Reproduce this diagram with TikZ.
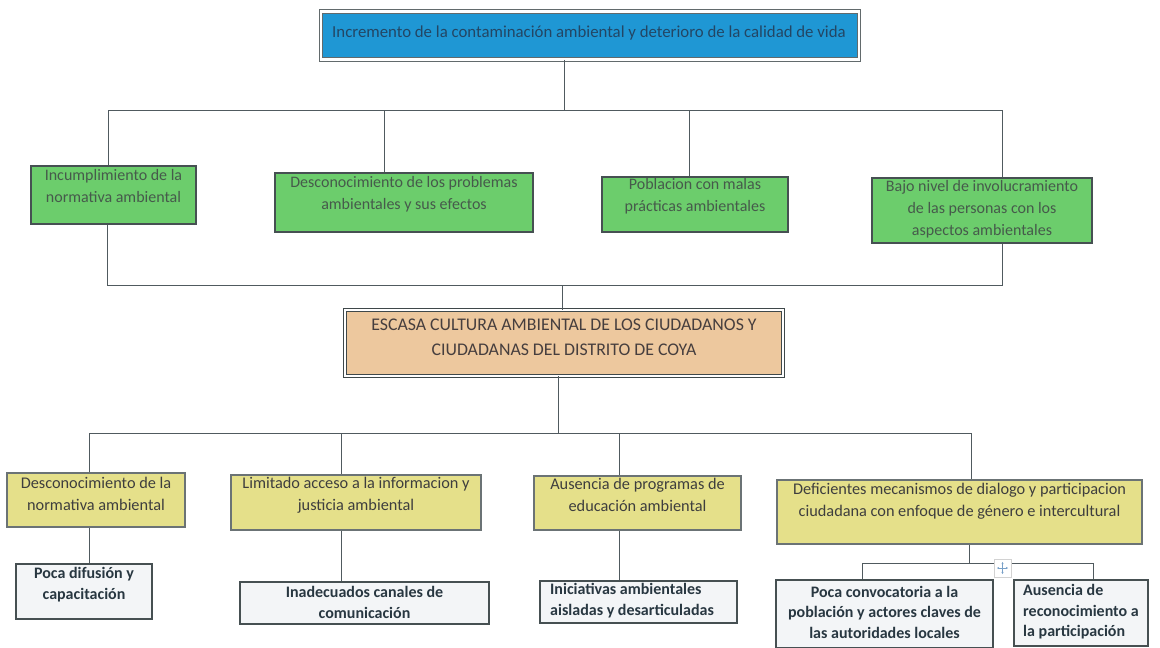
\documentclass[tikz,border=0pt]{standalone}
\usepackage{fontspec}
\setmainfont{Carlito}
\usetikzlibrary{arrows.meta}
\definecolor{bluef}{RGB}{31,151,212}
\definecolor{greenf}{RGB}{108,205,108}
\definecolor{tanf}{RGB}{237,200,158}
\definecolor{yellowf}{RGB}{229,224,138}
\definecolor{whitef}{RGB}{243,245,247}
\definecolor{bordc}{RGB}{70,80,82}
\definecolor{linec}{RGB}{80,90,95}
\definecolor{toptxt}{RGB}{35,70,100}
\definecolor{greentxt}{RGB}{70,90,75}
\definecolor{centxt}{RGB}{70,62,62}
\definecolor{yeltxt}{RGB}{62,62,62}
\definecolor{whitetxt}{RGB}{40,55,65}
\definecolor{iconc}{RGB}{120,160,200}
\begin{document}
\begin{tikzpicture}[x=1pt,y=-1pt,
  conn/.style={draw=linec, line width=0.9pt},
  gbox/.style={draw=bordc, line width=1.2pt, fill=greenf, inner sep=0pt},
  ybox/.style={draw=bordc!80, line width=1.2pt, fill=yellowf, inner sep=0pt},
  wbox/.style={draw=bordc, line width=1.5pt, fill=whitef, inner sep=0pt},
  gtxt/.style={font=\fontsize{16}{22}\selectfont, text=greentxt, align=center, inner sep=0pt},
  ytxt/.style={font=\fontsize{16.3}{22}\selectfont, text=yeltxt, align=center, inner sep=0pt},
  wtxt/.style={font=\fontsize{16}{20.5}\selectfont\bfseries, text=whitetxt, align=center, inner sep=0pt},
  wtxtl/.style={font=\fontsize{16}{20.5}\selectfont\bfseries, text=whitetxt, align=left, inner sep=0pt, anchor=west}
]
\useasboundingbox[fill=white] (0,0) rectangle (1160,648);

% ---------- top effect box ----------
\node[draw=bordc!85, line width=0.9pt, double=white, double distance=2.5pt, fill=bluef,
      minimum width=538pt, minimum height=48pt, inner sep=0pt] (top) at (590,35.5) {};
\node[font=\fontsize{16.8}{20}\selectfont, text=toptxt, inner sep=0pt] (topt) at (589,33)
  {Incremento de la contaminación ambiental y deterioro de la calidad de vida};

% ---------- green effect boxes ----------
\node[gbox, minimum width=165pt, minimum height=58pt] (g1) at (113.5,195) {};
\node[gtxt] (g1t) at (113.5,186) {Incumplimiento de la\\normativa ambiental};
\node[gbox, minimum width=258pt, minimum height=59pt] (g2) at (404,202.5) {};
\node[gtxt] (g2t) at (404,194) {Desconocimiento de los problemas\\ambientales y sus efectos};
\node[gbox, minimum width=186pt, minimum height=55pt] (g3) at (695,204.5) {};
\node[gtxt] (g3t) at (695,196) {Poblacion con malas\\prácticas ambientales};
\node[gbox, minimum width=220pt, minimum height=65pt] (g4) at (982,210.5) {};
\node[gtxt] (g4t) at (982,209) {Bajo nivel de involucramiento\\de las personas con los\\aspectos ambientales};

% ---------- central problem ----------
\node[draw=bordc!90!black, line width=1.3pt, double=white, double distance=1.8pt, fill=tanf,
      minimum width=437.6pt, minimum height=65.6pt, inner sep=0pt] (cen) at (564,343) {};
\node[font=\fontsize{17.8}{25}\selectfont, text=centxt, align=center, inner sep=0pt] (cent) at (564,337.5)
  {ESCASA CULTURA AMBIENTAL DE LOS CIUDADANOS Y\\CIUDADANAS DEL DISTRITO DE COYA};

% ---------- yellow cause boxes ----------
\node[ybox, minimum width=178pt, minimum height=54pt] (ya) at (96,500) {};
\node[ytxt] (yat) at (96,494) {Desconocimiento de la\\normativa ambiental};
\node[ybox, minimum width=250pt, minimum height=55pt] (yb) at (356,502.5) {};
\node[ytxt] (ybt) at (356,495) {Limitado acceso a la informacion y\\justicia ambiental};
\node[ybox, minimum width=207pt, minimum height=54pt] (yc) at (637.5,503) {};
\node[ytxt] (yct) at (637.5,495) {Ausencia de programas de\\educación ambiental};
\node[ybox, minimum width=365pt, minimum height=64pt] (yd) at (959.5,512) {};
\node[ytxt] (ydt) at (959.5,501) {Deficientes mecanismos de dialogo y participacion\\ciudadana con enfoque de género e intercultural};

% ---------- white sub-cause boxes ----------
\node[wbox, minimum width=136pt, minimum height=55pt] (wa) at (84,591.5) {};
\node[wtxt] (wat) at (84,584.5) {Poca difusión y\\capacitación};
\node[wbox, minimum width=249pt, minimum height=42pt] (wb) at (364.5,603) {};
\node[wtxt] (wbt) at (364.5,602.5) {Inadecuados canales de\\comunicación};
\node[wbox, minimum width=197pt, minimum height=42pt] (wc) at (638.5,602) {};
\node[wtxtl] (wct) at (550,600.5) {Iniciativas ambientales\\aisladas y desarticuladas};
\node[wbox, minimum width=217pt, minimum height=68pt] (wd) at (884.5,614) {};
\node[wtxt] (wdt) at (884.5,612) {Poca convocatoria a la\\población y actores claves de\\las autoridades locales};
\node[wbox, minimum width=134pt, minimum height=66pt] (we) at (1081,613) {};
\node[wtxtl] (wet) at (1023,612) {Ausencia de\\reconocimiento a\\la participación};

% ---------- junction coordinates ----------
\coordinate (t0) at (564,110);
\coordinate (t1) at (108,110);
\coordinate (t2) at (384,110);
\coordinate (t3) at (689,110);
\coordinate (t4) at (1002,110);
\coordinate (b0) at (562,285);
\coordinate (b1) at (107,285);
\coordinate (b4) at (1002,285);
\coordinate (c0) at (558,433);
\coordinate (c1) at (89,433);
\coordinate (c2) at (341,433);
\coordinate (c3) at (619,433);
\coordinate (c4) at (971,433);
\coordinate (d0) at (969,563);
\coordinate (d1) at (862,563);
\coordinate (d2) at (1093,563);

% ---------- connectors ----------
\draw[conn] (top.south -| t0) -- (t0);
\draw[conn] (g1.north -| t1) -- (t1) -- (t4) -- (g4.north -| t4);
\draw[conn] (t2) -- (g2.north -| t2);
\draw[conn] (t3) -- (g3.north -| t3);
\draw[conn] (g1.south -| b1) -- (b1) -- (b4) -- (g4.south -| b4);
\draw[conn] (b0) -- (cen.north -| b0);
\draw[conn] (cen.south -| c0) -- (c0);
\draw[conn] (ya.north -| c1) -- (c1) -- (c4) -- (yd.north -| c4);
\draw[conn] (c2) -- (yb.north -| c2);
\draw[conn] (c3) -- (yc.north -| c3);
\draw[conn] (ya.south -| c1) -- (wa.north -| c1);
\draw[conn] (yb.south -| c2) -- (wb.north -| c2);
\draw[conn] (yc.south -| c3) -- (wc.north -| c3);
\draw[conn] (yd.south -| d0) -- (d0);
\draw[conn] (wd.north -| d1) -- (d1) -- (d2) -- (we.north -| d2);

% ---------- small move handle ----------
\draw[draw=gray!35, fill=white, line width=0.6pt] (994,559) rectangle (1011,577);
\draw[draw=iconc, line width=0.7pt, {Stealth[length=2.2pt,width=2.2pt]}-{Stealth[length=2.2pt,width=2.2pt]}] (997,568) -- (1008,568);
\draw[draw=iconc, line width=0.7pt, {Stealth[length=2.2pt,width=2.2pt]}-{Stealth[length=2.2pt,width=2.2pt]}] (1002.5,562) -- (1002.5,574);
\end{tikzpicture}
\end{document}
